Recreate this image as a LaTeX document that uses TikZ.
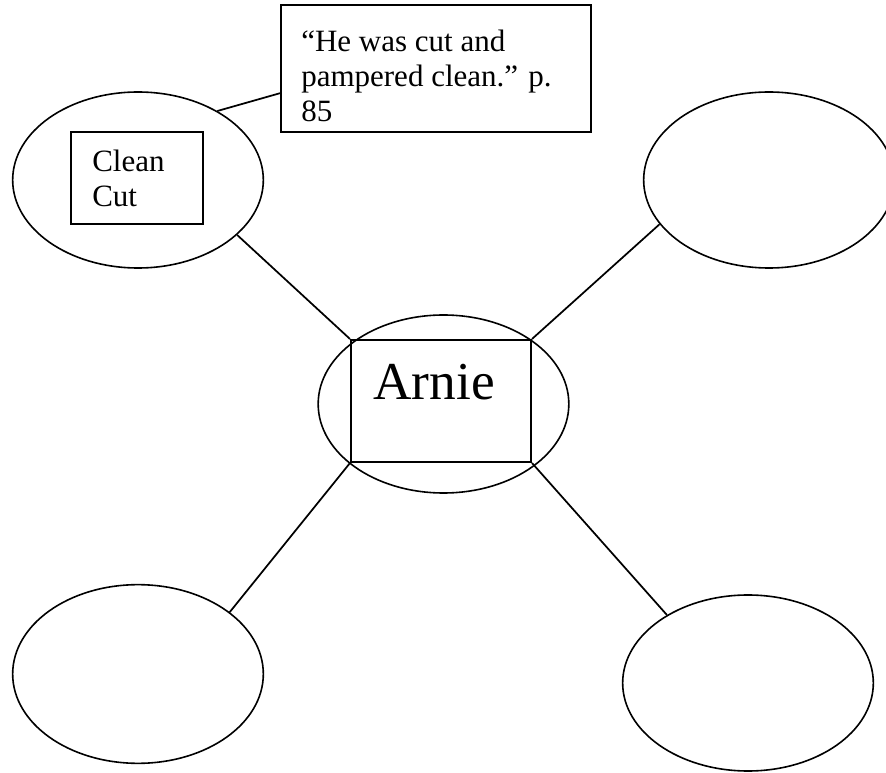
\documentclass[tikz,border=0pt]{standalone}
\usepackage{fontspec}
\setmainfont{Liberation Serif}
\usetikzlibrary{shapes.geometric}
\begin{document}
\begin{tikzpicture}[x=0.75pt,y=-0.75pt,
  oval/.style={draw, ellipse, line width=1.2pt, inner sep=0pt, minimum width=188pt, minimum height=132pt},
  box/.style={draw, rectangle, line width=1.5pt, inner sep=0pt},
  link/.style={draw, line width=1.3pt},
  smalltext/.style={inner sep=0pt, align=left, font=\fontsize{23.25}{26.25}\selectfont},
  bigtext/.style={inner sep=0pt, font=\fontsize{40}{44}\selectfont}]
\useasboundingbox (0,0) rectangle (886,773);
% ellipses
\node[oval] (tl) at (138,180) {};
\node[oval] (tr) at (769,180) {};
\node[oval, minimum height=133.5pt] (mid) at (443.5,404) {};
\node[oval, minimum height=134pt] (bl) at (138,674) {};
\node[oval] (br) at (748,683) {};
% rectangles
\node[box, minimum width=135pt, minimum height=91.5pt] (arnie) at (441,401) {};
\node[bigtext, anchor=base west] (arnietext) at (373,400) {Arnie};
\node[box, minimum width=99pt, minimum height=69pt] (clean) at (137,178) {};
\node[smalltext, anchor=base west] (cleantext) at (92,207) {Clean\\Cut};
\node[box, minimum width=232.5pt, minimum height=95.25pt] (quote) at (436,68.5) {};
\node[smalltext, anchor=base west] (quotetext) at (301,122) {“He was cut and\\pampered clean.” p.\\85};
% connectors
\draw[link] (tl.41) -- (quote.189);
\draw[link] (tl.-29) -- (arnie.north west);
\draw[link] (tr.202) -- (arnie.north east);
\draw[link] (bl.34) -- (arnie.south west);
\draw[link] (br.140) -- (arnie.south east);
\end{tikzpicture}
\end{document}
